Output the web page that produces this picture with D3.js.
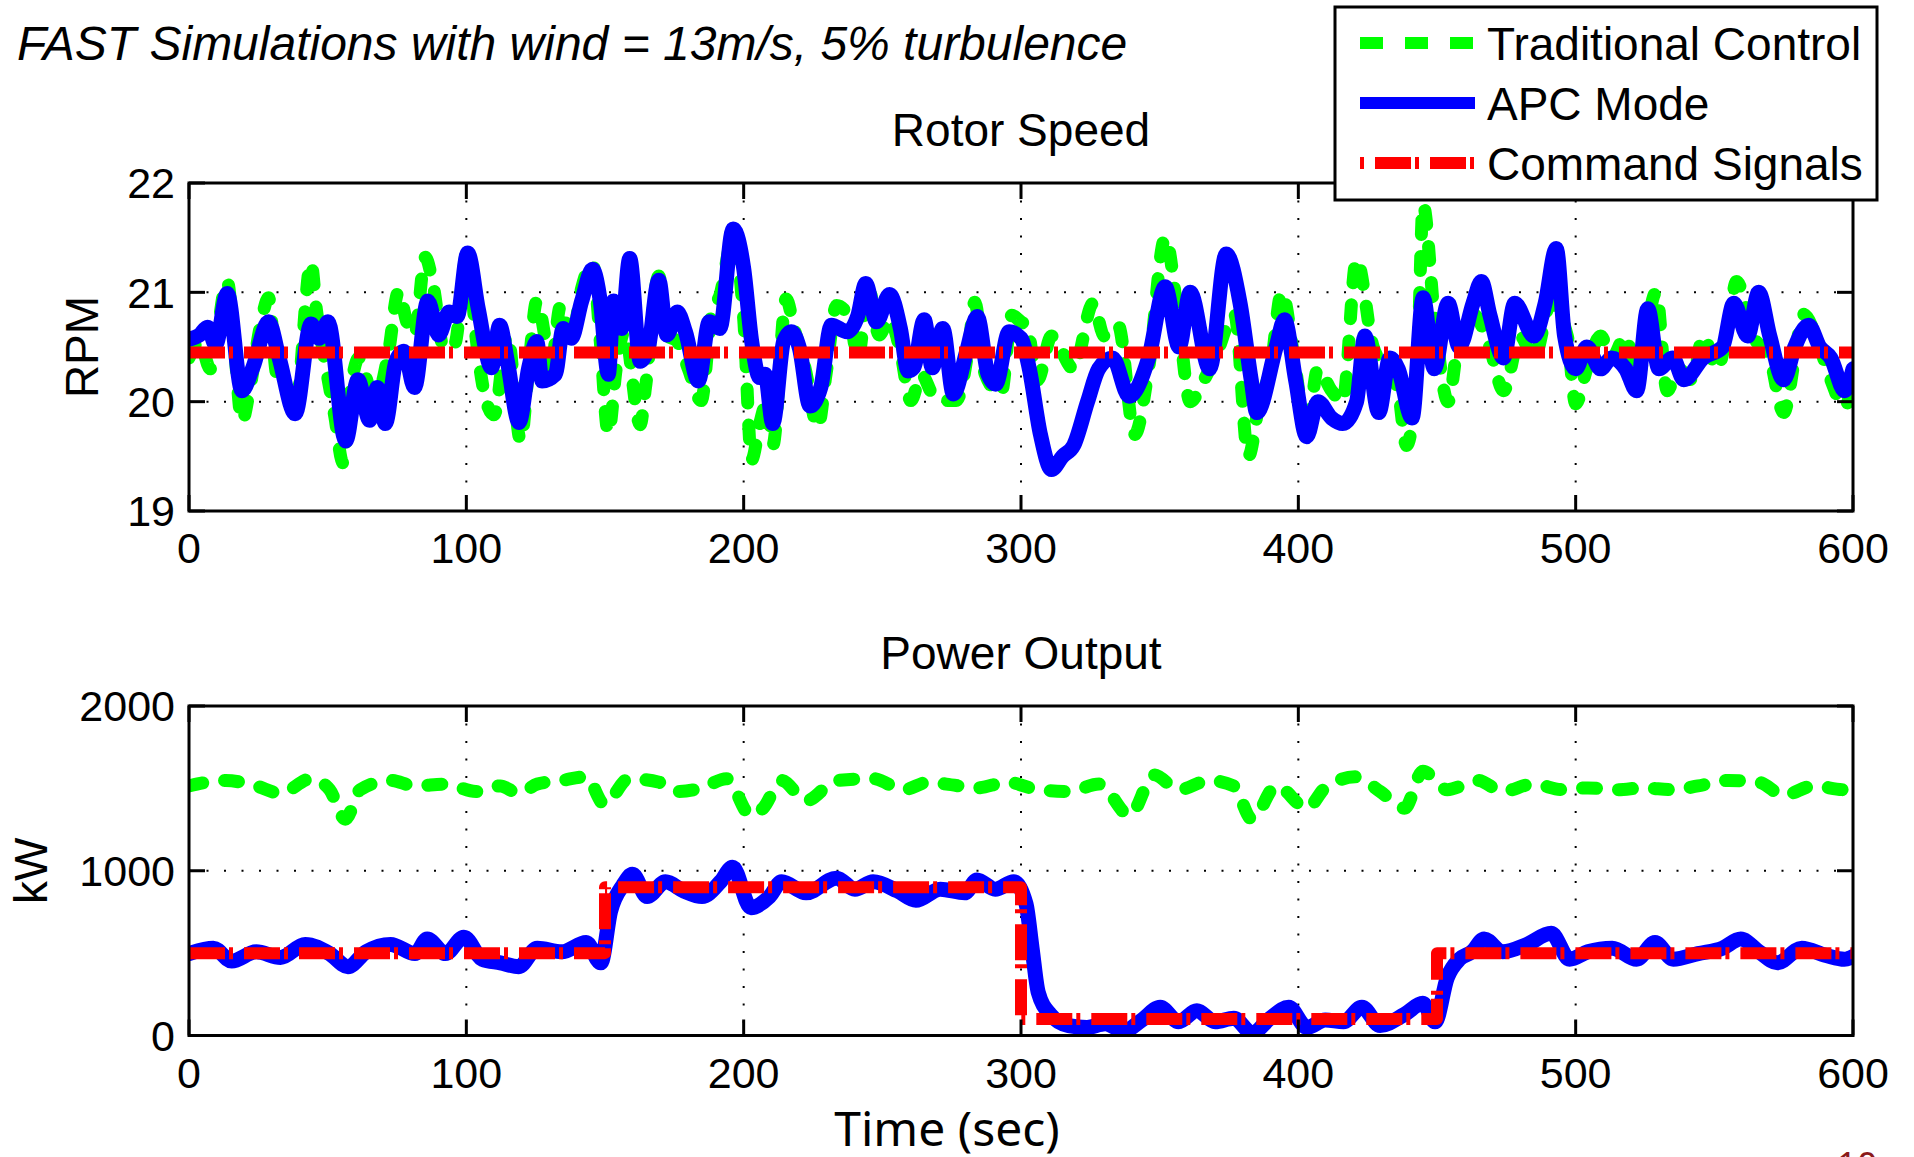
<!DOCTYPE html>
<html lang="en">
<head>
<meta charset="UTF-8">
<title>FAST Simulations</title>
<script src="https://d3js.org/d3.v7.min.js"></script>
<style>
  body { margin: 0; background: #fff; }
  svg { display: block; }
  text { font-family: "Liberation Sans", Arial, sans-serif; fill: #000; }
</style>
</head>
<body>
<svg id="chart"></svg>
<script>
const width = 1914, height = 1157;

// ==== data ====
const timeTicks = [0, 100, 200, 300, 400, 500, 600];
const rpmTicks = [19, 20, 21, 22];
const kwTicks = [0, 1000, 2000];

// Rotor speed, traditional control (green)
const tcRotorT = [0,3.8,7.7,13.8,16.3,19.1,22,25.8,28.7,31.6,34.5,38.3,44,45.9,48.8,52.6,55.5,58.4,61.2,65.1,67.9,71.8,75.6,78.5,81.3,85.2,88,91.9,95.7,100.5,103.4,107.2,110,114.8,119.6,122.5,125.4,128.2,130.2,134,137.8,141.6,145.5,148.3,151.2,154.1,157,162.7,164.6,169.4,172.3,176.1,179.9,184.7,188.5,191.4,196.2,200,202.9,205.8,208.6,210.5,215.3,218.2,222.1,226.8,229.7,233.5,238.3,241.2,245,248.8,252.6,256.5,260.3,264.1,268,271.8,276.6,281.4,283.3,287.1,292.8,296.7,300,
  302,306,311,319,326,330,335,341,346,352,357,361,366,370,377,382,386,390,394,399,403,407,412,416,421,427,432,436,439,443,445,449,454,458,463,469,474,480,485,491,497,500,504,509,513,518,522,529,533,537,542,546,551,555,558,564,570,575,579,582,588,592,597,600];
const tcRotor = [20.40,20.55,20.30,21.10,20.52,19.82,20.13,20.70,20.95,20.25,20.16,19.92,21.27,20.85,20.40,19.86,19.44,20.13,20.40,20.13,20.07,20.43,21.01,20.73,20.61,21.32,21.07,20.49,20.52,21.39,20.61,20.00,19.88,20.61,19.64,20.31,20.92,20.61,20.25,20.88,20.55,21.04,21.27,20.55,19.71,20.31,20.64,19.79,20.13,21.15,20.61,20.55,20.31,20.01,20.82,20.97,21.50,20.76,19.47,19.80,20.01,19.60,20.94,20.67,20.31,19.77,20.25,20.88,20.76,20.40,21.04,20.61,20.76,20.46,20.01,20.25,20.07,20.01,20.01,20.55,20.91,20.25,20.07,20.79,20.73,
  20.7,20.2,20.6,20.3,20.9,20.6,20.7,19.7,20.3,21.5,20.7,20.0,20.2,20.4,20.8,19.5,20.0,20.3,21.0,20.3,19.7,20.3,20.1,20.0,21.3,20.5,20.3,20.1,19.6,20.4,21.8,20.8,20.0,20.6,20.8,20.5,20.1,20.6,20.4,20.9,20.6,19.98,20.3,20.6,20.4,20.6,20.2,21.0,20.1,20.3,20.2,20.6,20.3,20.7,21.1,20.6,20.4,19.9,20.4,20.8,20.5,20.2,19.95,20.2];

// Rotor speed, APC mode (blue)
const apcRotorT = [0,3.8,6.7,9.6,13.8,19.1,23,28.7,32.5,38.3,44,46.9,50.1,56.5,60.9,65.1,67.9,70.8,74.6,77.5,81.3,86.1,90,93.8,96.7,100.5,104.3,109.1,112,114.8,119,122.5,125.4,127.3,132.1,134.9,137.8,141.6,145.5,148.3,151.2,153.1,156,158.9,162.7,165.6,169.4,172.3,176.1,179,183.7,187.6,191.4,196.2,200,202.9,205.8,207.7,210.5,214.4,217.2,220.1,223.9,227.8,231.6,237.3,241.2,244,247.9,252.6,256.5,259.3,261.3,265.1,268,271.8,275.6,280.4,284.2,288.1,290.9,295.7,300,
  303,307,311,315,319,324,328,333,339,346,352,357,361,368,374,379,383,385,392,395,399,403,407,412,416,421,424,429,433,436,441,445,449,454,458,463,466,469,474,478,485,489,493,496,500,504,509,513,518,522,526,530,535,539,546,553,557,562,566,570,575,579,584,588,592,597,600];
const apcRotor = [20.57,20.61,20.68,20.52,20.99,20.10,20.31,20.73,20.40,19.89,20.71,20.58,20.73,19.64,20.20,19.83,20.13,19.80,20.37,20.46,20.13,20.92,20.61,20.82,20.78,21.36,20.85,20.31,20.70,20.37,19.81,20.31,20.55,20.19,20.25,20.67,20.58,20.92,21.21,20.92,20.25,20.92,20.67,21.31,20.37,20.49,21.11,20.61,20.82,20.64,20.19,20.73,20.67,21.58,21.22,20.55,20.22,20.25,19.80,20.55,20.64,20.49,19.96,20.13,20.70,20.64,20.79,21.08,20.73,20.98,20.67,20.28,20.31,20.75,20.31,20.67,20.07,20.46,20.78,20.25,20.16,20.64,20.58,
  20.3,19.7,19.38,19.5,19.6,20.0,20.3,20.4,20.05,20.4,21.05,20.5,21.0,20.3,21.35,20.9,20.2,19.9,20.5,20.75,20.2,19.68,20.0,19.85,19.8,20.0,20.6,19.9,20.4,20.3,19.85,20.95,20.3,20.9,20.5,20.9,21.1,20.8,20.4,20.9,20.6,20.9,21.4,20.6,20.3,20.5,20.3,20.4,20.3,20.1,20.85,20.3,20.4,20.2,20.4,20.5,20.9,20.6,21.0,20.6,20.2,20.5,20.7,20.5,20.4,20.1,20.3];

// Power output, traditional control (green)
const tcPowerT = [0,13.2,24.2,33,44.1,50.7,56.4,61.7,72.7,81.5,92.5,103.5,112.3,118.9,125.6,134.4,143.2,149.8,158.6,169.6,176.2,185,193.8,202.6,207,213.7,222.5,233.5,246.7,257.7,266.5,273.1,284.1,295.2,306.2,317.2,328.2,339.2,348,356.8,367.8,376.7,383.3,392.1,403.1,409.7,420.7,429.5,438.3,444.9,453.7,464.8,473.6,484.6,495.6,504.4,515.4,524.2,535.2,544.1,555.1,566.1,574.9,585.9,596.9,600];
const tcPower = [1515,1548,1515,1470,1559,1492,1313,1492,1548,1515,1526,1481,1515,1470,1526,1548,1570,1403,1559,1537,1481,1503,1559,1336,1380,1548,1425,1548,1559,1492,1537,1526,1503,1537,1492,1481,1526,1336,1582,1492,1548,1515,1313,1515,1380,1503,1570,1481,1380,1604,1492,1548,1481,1526,1492,1503,1492,1503,1492,1515,1548,1537,1459,1515,1492,1500];

// Power output, APC mode (blue)
const apcPowerT = [0,8.8,15.4,24.2,33,41.9,50.7,57.3,63.9,72.7,81.5,85.9,92.5,99.1,105.7,112.3,118.9,125.6,134.4,143.2,148.5,152,156.4,159.9,165.2,171.8,178.4,185,191.6,196,202.6,209.3,213.7,222.5,233.5,240.1,246.7,255.5,262.1,270.9,279.7,284.1,290.7,297.4,301.8,304,306.2,310.6,317.2,323.8,330.4,337,343.6,350.2,356.8,363.4,370,376.7,383.3,389.9,396.5,403.1,409.7,416.3,422.9,429.5,438.3,444.9,449.3,453.7,458.1,462.6,467,473.6,482.4,491.2,497.8,504.4,513.2,522,528.6,535.2,544.1,552.9,559.5,566.1,572.7,581.5,590.3,596.9,600];
const apcPower = [497,530,452,508,474,553,497,418,508,553,497,586,497,597,463,441,418,530,508,564,441,754,911,978,843,933,877,843,933,1022,776,843,933,866,955,888,933,877,821,888,866,944,888,933,799,530,262,128,60,49,72,27,94,172,83,150,83,105,16,105,172,49,94,83,172,60,128,195,83,351,463,508,586,508,553,620,463,508,530,463,564,463,497,530,586,508,441,530,486,463,480];

// Command signals (red)
const cmdRpmT = [0, 600];
const cmdRpm = [20.45, 20.45];
const cmdPowerT = [0, 150, 300, 450, 600];
const cmdPower = [500, 900, 100, 500, 500];

// ==== drawing ====
const svg = d3.select("#chart").attr("width", width).attr("height", height);

const x = d3.scaleLinear().domain([0, 600]).range([189, 1853]);

const GREEN = "#00ff00", BLUE = "#0000ff", RED = "#ff0000";

function zip(ts, vs) { return ts.map((t, i) => [t, vs[i]]); }

function drawPanel(cfg) {
  const y = d3.scaleLinear().domain(cfg.domain).range([cfg.bottom, cfg.top]);
  const g = svg.append("g");
  const [x0, x1] = x.range();

  g.append("clipPath").attr("id", cfg.id)
    .append("rect").attr("x", x0).attr("y", cfg.top)
    .attr("width", x1 - x0).attr("height", cfg.bottom - cfg.top);

  // dotted grid
  g.selectAll(".gx").data(timeTicks.slice(1, -1)).enter().append("line")
    .attr("x1", d => x(d)).attr("x2", d => x(d))
    .attr("y1", cfg.top).attr("y2", cfg.bottom)
    .attr("stroke", "#000").attr("stroke-width", 2).attr("stroke-dasharray", "2,15.5");
  g.selectAll(".gy").data(cfg.ticks.slice(1, -1)).enter().append("line")
    .attr("x1", x0).attr("x2", x1)
    .attr("y1", d => y(d)).attr("y2", d => y(d))
    .attr("stroke", "#000").attr("stroke-width", 2).attr("stroke-dasharray", "2,15.5");

  // series
  const plot = g.append("g").attr("clip-path", `url(#${cfg.id})`);
  cfg.series.forEach(s => {
    const line = d3.line().x(d => x(d[0])).y(d => y(d[1])).curve(s.curve);
    plot.append("path").datum(s.data)
      .attr("d", line)
      .attr("fill", "none")
      .attr("stroke", s.color)
      .attr("stroke-width", s.width)
      .attr("stroke-linecap", s.cap)
      .attr("stroke-linejoin", "round")
      .attr("stroke-dasharray", s.dash || null);
  });

  // box
  g.append("rect").attr("x", x0).attr("y", cfg.top)
    .attr("width", x1 - x0).attr("height", cfg.bottom - cfg.top)
    .attr("fill", "none").attr("stroke", "#000").attr("stroke-width", 3);

  // inward ticks
  const tl = 16;
  timeTicks.forEach(t => {
    g.append("line").attr("x1", x(t)).attr("x2", x(t)).attr("y1", cfg.bottom).attr("y2", cfg.bottom - tl)
      .attr("stroke", "#000").attr("stroke-width", 3);
    g.append("line").attr("x1", x(t)).attr("x2", x(t)).attr("y1", cfg.top).attr("y2", cfg.top + tl)
      .attr("stroke", "#000").attr("stroke-width", 3);
  });
  cfg.ticks.forEach(v => {
    g.append("line").attr("x1", x0).attr("x2", x0 + tl).attr("y1", y(v)).attr("y2", y(v))
      .attr("stroke", "#000").attr("stroke-width", 3);
    g.append("line").attr("x1", x1).attr("x2", x1 - tl).attr("y1", y(v)).attr("y2", y(v))
      .attr("stroke", "#000").attr("stroke-width", 3);
  });

  // tick labels
  g.selectAll(".xl").data(timeTicks).enter().append("text")
    .attr("x", d => x(d)).attr("y", cfg.bottom + 52)
    .attr("text-anchor", "middle").style("font-size", "43px").text(d => d);
  g.selectAll(".yl").data(cfg.ticks).enter().append("text")
    .attr("x", 175).attr("y", d => y(d)).attr("dy", "0.36em")
    .attr("text-anchor", "end").style("font-size", "43px").text(d => d);

  // titles
  g.append("text").attr("x", (x0 + x1) / 2).attr("y", cfg.top - 37)
    .attr("text-anchor", "middle").style("font-size", "46px").text(cfg.title);
  g.append("text")
    .attr("transform", `translate(${cfg.labelX},${(cfg.top + cfg.bottom) / 2}) rotate(-90)`)
    .attr("text-anchor", "middle").attr("dy", "0.36em")
    .style("font-size", "46px").text(cfg.ylabel);
}

drawPanel({
  id: "clipTop", domain: [19, 22], top: 183, bottom: 511, ticks: rpmTicks,
  title: "Rotor Speed", ylabel: "RPM", labelX: 81,
  series: [
    { data: zip(tcRotorT, tcRotor), color: GREEN, width: 13, cap: "round", dash: "14,22", curve: d3.curveMonotoneX },
    { data: zip(apcRotorT, apcRotor), color: BLUE, width: 15, cap: "round", curve: d3.curveMonotoneX },
    { data: zip(cmdRpmT, cmdRpm), color: RED, width: 12, cap: "butt", dash: "36,4,4,11", curve: d3.curveLinear }
  ]
});

drawPanel({
  id: "clipBot", domain: [0, 2000], top: 706, bottom: 1035.5, ticks: kwTicks,
  title: "Power Output", ylabel: "kW", labelX: 30,
  series: [
    { data: zip(tcPowerT, tcPower), color: GREEN, width: 13, cap: "round", dash: "14,22", curve: d3.curveMonotoneX },
    { data: zip(apcPowerT, apcPower), color: BLUE, width: 15, cap: "round", curve: d3.curveMonotoneX },
    { data: zip(cmdPowerT, cmdPower), color: RED, width: 12, cap: "butt", dash: "36,4,4,11", curve: d3.curveStepAfter }
  ]
});

// main title
svg.append("text").attr("x", 17).attr("y", 60)
  .style("font-size", "48px").style("font-style", "italic")
  .text("FAST Simulations with wind = 13m/s, 5% turbulence");

// x label
svg.append("text").attr("x", 947).attr("y", 1146)
  .attr("text-anchor", "middle")
  .style("font-family", "'Noto Sans', sans-serif").style("font-size", "48px")
  .text("Time (sec)");

// page number (cut off at the bottom)
svg.append("text").attr("x", 1857).attr("y", 1178)
  .attr("text-anchor", "middle")
  .style("font-family", "'Noto Sans', sans-serif").style("font-size", "36px")
  .style("fill", "#8b1a1a").text("10");

// legend
const legendItems = [
  { label: "Traditional Control", color: GREEN, dash: "23,22", offset: 0 },
  { label: "APC Mode", color: BLUE, dash: null, offset: 0 },
  { label: "Command Signals", color: RED, dash: "36,4,4,11", offset: 40 }
];
const leg = svg.append("g");
leg.append("rect").attr("x", 1335).attr("y", 7).attr("width", 542).attr("height", 193)
  .attr("fill", "#fff").attr("stroke", "#000").attr("stroke-width", 3);
const rowY = d3.scalePoint().domain(legendItems.map(d => d.label)).range([43, 163]);
legendItems.forEach(d => {
  leg.append("line").attr("x1", 1360).attr("x2", 1475)
    .attr("y1", rowY(d.label)).attr("y2", rowY(d.label))
    .attr("stroke", d.color).attr("stroke-width", 12)
    .attr("stroke-dasharray", d.dash).attr("stroke-dashoffset", d.offset);
  leg.append("text").attr("x", 1487).attr("y", rowY(d.label)).attr("dy", "0.36em")
    .style("font-size", "46px").text(d.label);
});
</script>
</body>
</html>
